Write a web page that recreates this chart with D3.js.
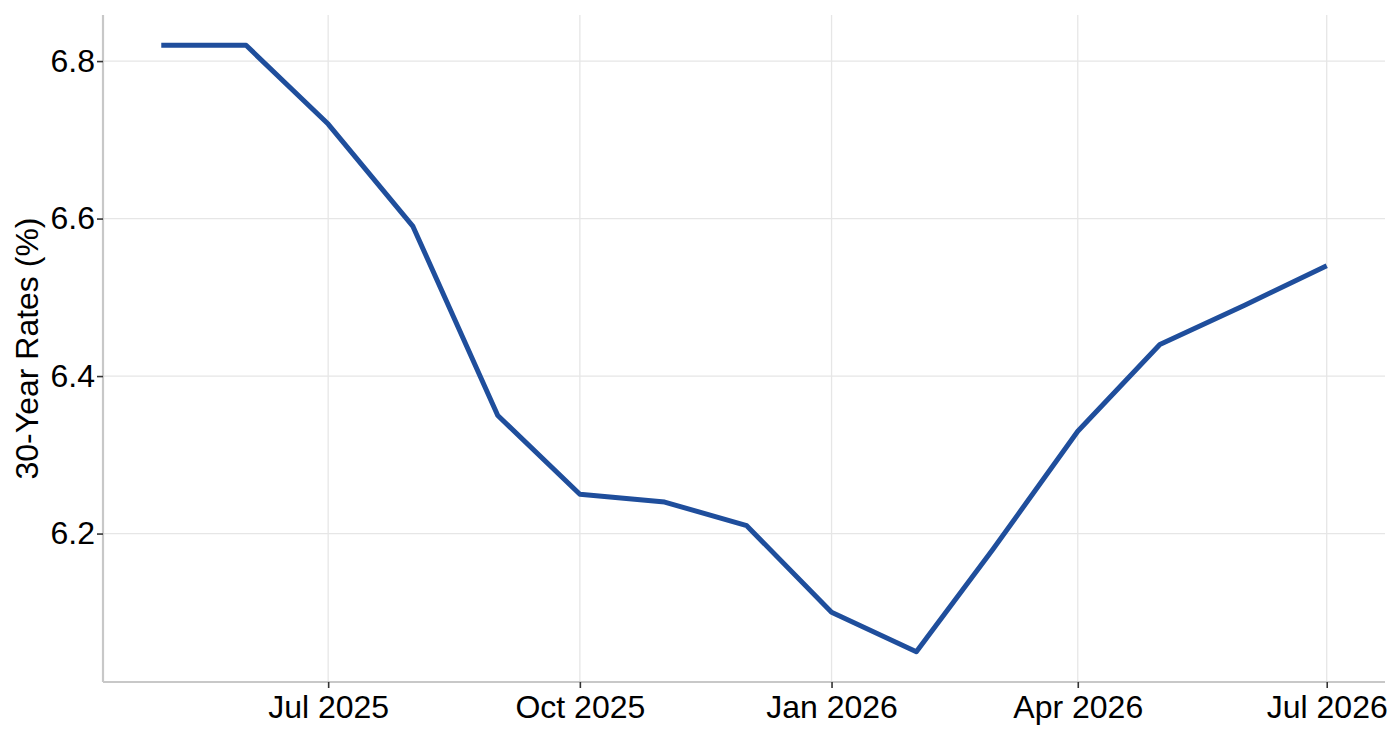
<!DOCTYPE html>
<html>
<head>
<meta charset="utf-8">
<script src="https://cdn.jsdelivr.net/npm/d3@7"></script>
<style>
  body { margin: 0; background: #fff; }
  svg { display: block; font-family: "Liberation Sans", Arial, sans-serif; }
</style>
</head>
<body>
<div id="chart"></div>
<script>
// monthly 30-year rate readings
const months = ['2025-05-01', '2025-06-01', '2025-07-01', '2025-08-01', '2025-09-01',
  '2025-10-01', '2025-11-01', '2025-12-01', '2026-01-01', '2026-02-01',
  '2026-03-01', '2026-04-01', '2026-05-01', '2026-06-01', '2026-07-01'];
const rates = [6.82, 6.82, 6.72, 6.59, 6.35, 6.25, 6.24, 6.21, 6.10, 6.05,
  6.18, 6.33, 6.44, 6.49, 6.54];
const xTicks = ['2025-07-01', '2025-10-01', '2026-01-01', '2026-04-01', '2026-07-01'];
const yTicks = [6.2, 6.4, 6.6, 6.8];

const parse = d3.utcParse('%Y-%m-%d');
const data = months.map((m, i) => ({ date: parse(m), value: rates[i] }));

const width = 1400, height = 740;
const margin = { top: 15, right: 15, bottom: 58, left: 103 };

const svg = d3.select('#chart').append('svg')
  .attr('width', width)
  .attr('height', height);

// ggplot-style 5% expansion on both axes
const xExt = d3.extent(data, d => d.date);
const xPad = (xExt[1] - xExt[0]) * 0.05;
const x = d3.scaleUtc()
  .domain([new Date(+xExt[0] - xPad), new Date(+xExt[1] + xPad)])
  .range([margin.left, width - margin.right]);

const yExt = d3.extent(data, d => d.value);
const yPad = (yExt[1] - yExt[0]) * 0.05;
const y = d3.scaleLinear()
  .domain([yExt[0] - yPad, yExt[1] + yPad])
  .range([height - margin.bottom, margin.top]);

// Gridlines
svg.append('g')
  .selectAll('line')
  .data(yTicks)
  .join('line')
  .attr('x1', margin.left).attr('x2', width - margin.right)
  .attr('y1', d => y(d)).attr('y2', d => y(d))
  .attr('stroke', '#e6e6e6').attr('stroke-width', 1.3);

svg.append('g')
  .selectAll('line')
  .data(xTicks.map(parse))
  .join('line')
  .attr('x1', d => x(d)).attr('x2', d => x(d))
  .attr('y1', margin.top).attr('y2', height - margin.bottom)
  .attr('stroke', '#e6e6e6').attr('stroke-width', 1.3);

// Axes
const xAxis = svg.append('g')
  .attr('transform', `translate(0,${height - margin.bottom})`)
  .call(d3.axisBottom(x)
    .tickValues(xTicks.map(parse))
    .tickFormat(d3.utcFormat('%b %Y'))
    .tickSize(6)
    .tickPadding(7));

const yAxis = svg.append('g')
  .attr('transform', `translate(${margin.left},0)`)
  .call(d3.axisLeft(y)
    .tickValues(yTicks)
    .tickFormat(d3.format('.1f'))
    .tickSize(6)
    .tickPadding(2));

[xAxis, yAxis].forEach(ax => {
  ax.select('.domain').attr('stroke', '#c8c8c8').attr('stroke-width', 2.2);
  ax.selectAll('.tick line').attr('stroke', '#333').attr('stroke-width', 1.6);
  ax.selectAll('.tick text')
    .attr('fill', '#000')
    .attr('font-size', '32px')
    .attr('font-family', '"Liberation Sans", Arial, sans-serif');
});
xAxis.select('.domain').attr('d', `M${margin.left},0H${width - margin.right}`);
yAxis.select('.domain').attr('d', `M0,${margin.top}V${height - margin.bottom}`);

// Axis title
svg.append('text')
  .attr('transform', `translate(38,${(margin.top + height - margin.bottom) / 2}) rotate(-90)`)
  .attr('text-anchor', 'middle')
  .attr('font-size', '32px')
  .attr('fill', '#000')
  .text('30-Year Rates (%)');

// Line
const line = d3.line()
  .x(d => x(d.date))
  .y(d => y(d.value));

svg.append('path')
  .datum(data)
  .attr('d', line)
  .attr('fill', 'none')
  .attr('stroke', '#1f4e9c')
  .attr('stroke-width', 5)
  .attr('stroke-linejoin', 'round');
</script>
</body>
</html>
